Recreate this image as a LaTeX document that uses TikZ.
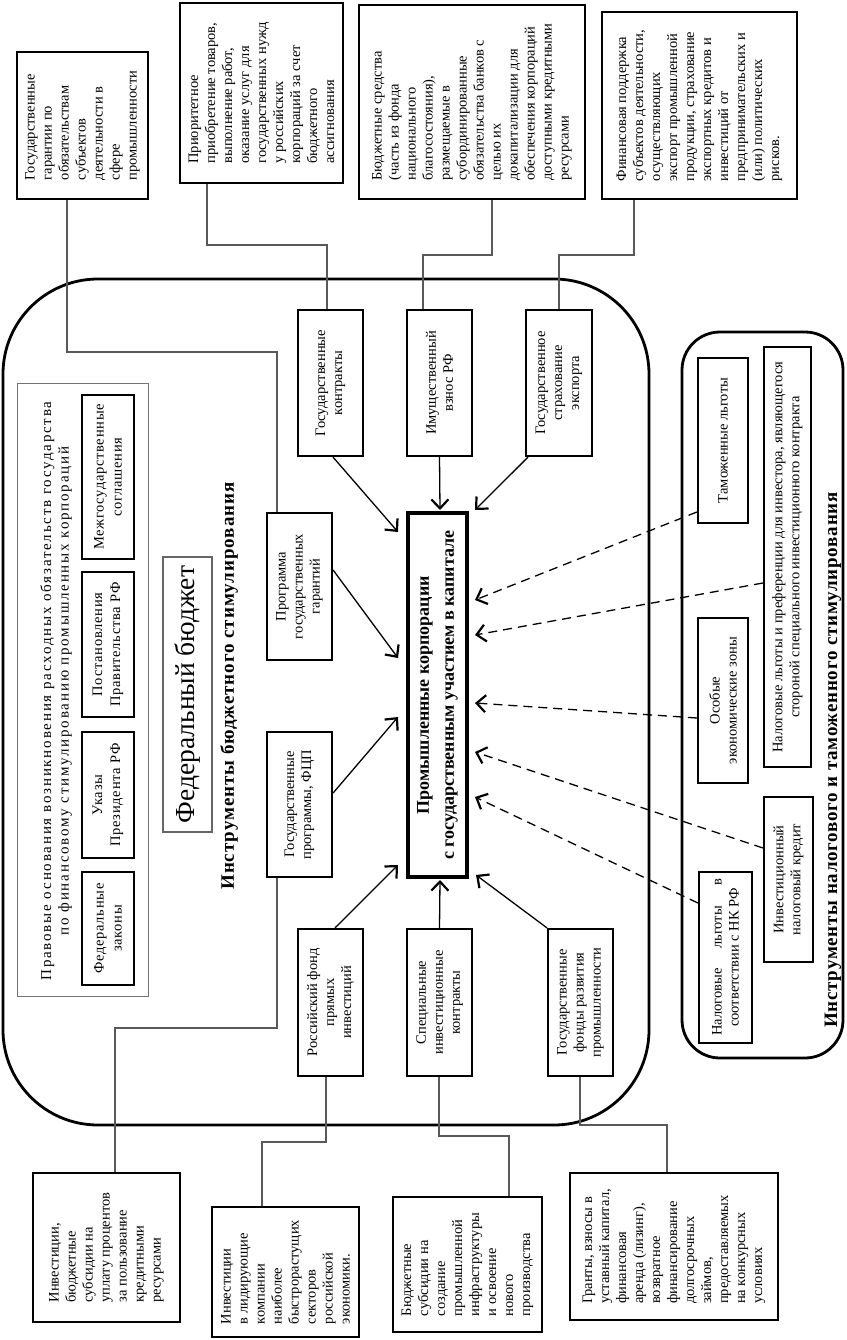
\documentclass[tikz,border=0pt]{standalone}
\usepackage{fontspec}
\setmainfont{Liberation Serif}
\usetikzlibrary{arrows.meta,calc}
\newcommand\rbx[7][]{\node[#1,minimum width={#6pt-#4pt},minimum height={#5pt-#3pt}] (#2) at ({(#3+#5)/2},{(#4+#6)/2}) {#7};}
\begin{document}
\begin{tikzpicture}[x=1pt,y=-1pt,
  txt/.style={font=\fontsize{14.5}{17}\selectfont},
  ext/.style={draw, line width=2.6pt, fill=white, rotate=90, align=left, inner sep=0pt, txt},
  inst/.style={draw, line width=2.2pt, fill=white, rotate=90, align=center, inner sep=0pt, txt},
  legal/.style={draw, line width=2pt, fill=white, rotate=90, align=center, inner sep=0pt, font=\fontsize{14.5}{18}\selectfont\addfontfeature{LetterSpace=5}},
  conn/.style={draw=black!65, line width=1.2pt},
  arr/.style={line width=1.3pt, -{Straight Barb[length=9pt,width=17pt,line width=2.2pt]}},
  darr/.style={arr, dash pattern=on 9pt off 6pt},
]
\useasboundingbox (0,0) rectangle (846,1340);
% big containers
\node[draw, line width=2.8pt, rounded corners=95pt, minimum width=646pt, minimum height=846pt] (fb) at (326,702) {};
\node[draw, line width=2.8pt, rounded corners=38pt, minimum width=161pt, minimum height=726pt] (tx) at (762.5,695) {};
% legal box
\node[draw=black!55, line width=1pt, minimum width=131pt, minimum height=613pt] (lg) at (82.5,689.5) {};
\node[rotate=90, align=center, font=\fontsize{15}{17.5}\selectfont\addfontfeature{LetterSpace=12}] (lgt) at (56,691) {Правовые основания возникновения расходных обязательств государства\\по финансовому стимулированию промышленных корпораций};
\rbx[legal]{fz}{82}{872}{134}{985}{Федеральные\\законы}
\rbx[legal]{up}{82}{732}{134}{858}{Указы\\Президента РФ}
\rbx[legal]{pp}{82}{572}{134}{717}{Постановления\\Правительства РФ}
\rbx[legal]{mg}{82}{395}{134}{559}{Межгосударственные\\соглашения}
% federal budget label and title
\node[draw=black!60, line width=1.3pt, rotate=90, minimum width=275pt, minimum height=49pt, inner sep=0pt, font=\fontsize{27.5}{30}\selectfont] (fbud) at (187.5,694.5) {Федеральный бюджет};
\node[rotate=90, font=\bfseries\fontsize{19}{22}\selectfont\addfontfeature{LetterSpace=5}] (tbud) at (229,686) {Инструменты бюджетного стимулирования};
% instruments
\rbx[inst]{gk}{298}{310}{363}{456}{Государственные\\контракты}
\rbx[inst]{iv}{407}{310}{472}{456}{Имущественный\\взнос РФ}
\rbx[inst]{gs}{526}{310}{592}{456}{Государственное\\страхование\\экспорта}
\rbx[inst]{pg}{267}{513}{332}{660}{Программа\\государственных\\гарантий}
\rbx[inst]{gp}{267}{732}{332}{877}{Государственные\\программы, ФЦП}
\rbx[inst]{rf}{298}{929}{363}{1076}{Российский фонд\\прямых\\инвестиций}
\rbx[inst]{sp}{407}{929}{472}{1076}{Специальные\\инвестиционные\\контракты}
\rbx[inst]{gf}{548}{929}{613}{1076}{Государственные\\фонды развития\\промышленности}
\node[draw, line width=3.4pt, fill=white, rotate=90, minimum width=364pt, minimum height=59pt, inner sep=0pt, align=center, font=\bfseries\fontsize{18}{25}\selectfont] (pk) at (437.5,695) {Промышленные корпорации\\с государственным участием в капитале};
% tax instruments
\rbx[inst]{tl}{698}{358}{748}{523}{Таможенные льготы}
\rbx[inst]{nl}{764}{347}{811}{767}{Налоговые льготы и преференции для инвестора, являющегося\\стороной специального инвестиционного контракта}
\rbx[inst]{oez}{698}{618}{748}{783}{Особые\\экономические зоны}
\rbx[inst]{ink}{764}{797}{813}{962}{Инвестиционный\\налоговый кредит}
\rbx[inst]{nk}{699}{872}{752}{1043}{Налоговые\hspace{20pt}льготы\hspace{20pt}в\\соответствии с НК РФ}
\node[rotate=90, font=\bfseries\fontsize{19}{22}\selectfont\addfontfeature{LetterSpace=4}] (ttax) at (833,760) {Инструменты налогового и таможенного стимулирования};
% external boxes
\rbx[ext]{e1}{17}{52}{148}{199}{Государственные\\гарантии по\\обязательствам\\субъектов\\деятельности в\\сфере\\промышленности}
\rbx[ext]{e2}{180}{3}{343}{183}{Приоритетное\\приобретение товаров,\\выполнение работ,\\оказание услуг для\\государственных нужд\\у российских\\корпораций за счет\\бюджетного\\ассигнования}
\rbx[ext]{e3}{359}{5}{585}{199}{Бюджетные средства\\(часть из фонда\\национального\\благосостояния),\\размещаемые в\\субординированные\\обязательства банков с\\целью их\\докапитализации для\\обеспечения корпораций\\доступными кредитными\\ресурсами}
\rbx[ext]{e4}{602}{12}{797}{199}{Финансовая поддержка\\субъектов деятельности,\\осуществляющих\\экспорт промышленной\\продукции, страхование\\экспортных кредитов и\\инвестиций от\\предпринимательских и\\(или) политических\\рисков.}
\rbx[ext]{e5}{33}{1173}{180}{1322}{Инвестиции,\\бюджетные\\субсидии на\\уплату процентов\\за пользование\\кредитными\\ресурсами}
\rbx[ext]{e6}{212}{1207}{359}{1337}{Инвестиции\\в лидирующие\\компании\\наиболее\\быстрорастущих\\секторов\\российской\\экономики.}
\rbx[ext]{e7}{393}{1197}{542}{1332}{Бюджетные\\субсидии на\\создание\\промышленной\\инфраструктуры\\и освоение\\нового\\производства}
\rbx[ext]{e8}{570}{1173}{778}{1320}{Гранты, взносы в\\уставный капитал,\\финансовая\\аренда (лизинг),\\возвратное\\финансирование\\долгосрочных\\займов,\\предоставляемых\\на конкурсных\\условиях}
% connectors
\draw[conn] (e1.west -| 67,0) -- (67,352) -- (277,352) -- (pg.east -| 277,0);
\draw[conn] (e2.west -| 207,0) -- (207,245) -- (327,245) -- (gk.east -| 327,0);
\draw[conn] (e3.west -| 492,0) -- (492,255) -- (423,255) -- (iv.east -| 423,0);
\draw[conn] (e4.west -| 634,0) -- (634,255) -- (559,255) -- (gs.east -| 559,0);
\draw[conn] (e5.east -| 115,0) -- (115,1028) -- (277,1028) -- (gp.west -| 277,0);
\draw[conn] (e6.east -| 262,0) -- (262,1142) -- (326,1142) -- (rf.west -| 326,0);
\draw[conn] (e7.east -| 509,0) -- (509,1136) -- (439,1136) -- (sp.west -| 439,0);
\draw[conn] (e8.east -| 667,0) -- (667,1125) -- (580,1125) -- (gf.west -| 580,0);
% arrow tips
\coordinate (t1) at (398,532);
\coordinate (t2) at (440,510);
\coordinate (t3) at (475,510);
\coordinate (t4) at (398,658);
\coordinate (t5) at (398,717);
\coordinate (t6) at (398,865);
\coordinate (t7) at (440,880);
\coordinate (t8) at (476,875);
\coordinate (d1) at (475,600);
\coordinate (d2) at (475,635);
\coordinate (d3) at (475,703);
\coordinate (d4) at (475,752);
\coordinate (d5) at (475,797);
\draw[arr] (gk.west -| 333,0) -- (t1);
\draw[arr] (iv.west) -- (t2);
\draw[arr] (gs.west -| 528,0) -- (t3);
\draw[arr] (pg.south |- 0,570) -- (t4);
\draw[arr] (gp.south |- 0,793) -- (t5);
\draw[arr] (rf.east -| 335,0) -- (t6);
\draw[arr] (sp.east) -- (t7);
\draw[arr] (gf.east -| 547,0) -- (t8);
\draw[darr] (tl.north |- 0,512) -- (d1);
\draw[darr] (nl.north |- 0,583) -- (d2);
\draw[darr] (oez.north |- 0,718) -- (d3);
\draw[darr] (ink.north |- 0,848) -- (d4);
\draw[darr] (nk.north |- 0,903) -- (d5);
\end{tikzpicture}
\end{document}
